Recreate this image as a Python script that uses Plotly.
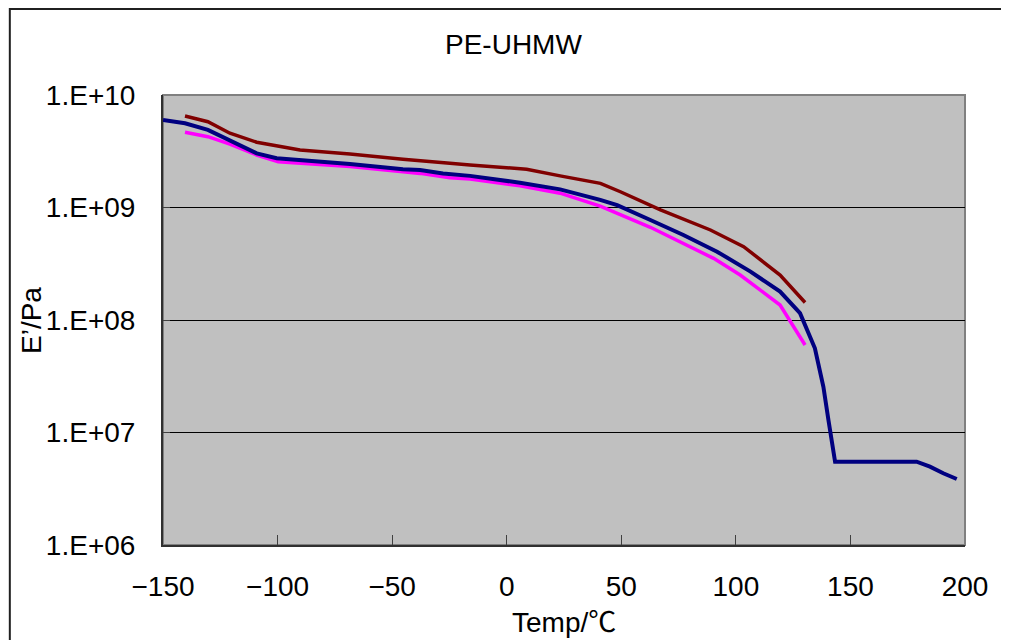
import plotly.graph_objects as go

# Temperature (°C) and storage modulus E' (Pa)
navy_temp = [-150, -140.4, -130.4, -120.8, -109.1, -100.4, -85.8, -68.4, -45.3, -37.8,
             -27.8, -16.0, 5.8, 23.3, 40.8, 48.2, 62.7, 77.1, 91.8, 106.4,
             119.3, 128.0, 134.5, 138.2, 140.4, 143.3, 178.9, 184.7, 190.5, 196.4]
navy_E = [6.00e9, 5.60e9, 4.89e9, 3.98e9, 3.03e9, 2.74e9, 2.61e9, 2.44e9, 2.19e9, 2.15e9,
          2.01e9, 1.91e9, 1.66e9, 1.45e9, 1.17e9, 1.05e9, 7.74e8, 5.70e8, 4.05e8, 2.69e8,
          1.79e8, 1.15e8, 5.61e7, 2.55e7, 1.29e7, 5.50e6, 5.50e6, 4.97e6, 4.34e6, 3.86e6]

maroon_temp = [-140.4, -130.4, -120.8, -109.1, -90.2, -68.4, -45.3, -37.8, -24.8, -16.0,
               8.7, 23.3, 32.0, 40.9, 49.6, 67.1, 88.9, 103.4, 119.3, 130.2]
maroon_E = [6.50e9, 5.79e9, 4.57e9, 3.80e9, 3.24e9, 2.99e9, 2.68e9, 2.59e9, 2.47e9, 2.39e9,
            2.19e9, 1.91e9, 1.78e9, 1.64e9, 1.38e9, 9.51e8, 6.31e8, 4.49e8, 2.51e8, 1.43e8]

magenta_temp = [-140.4, -130.4, -120.8, -109.1, -99.7, -68.4, -45.3, -37.8, -24.8, -16.0,
                5.8, 23.3, 40.8, 62.7, 90.3, 101.9, 119.3, 130.2]
magenta_E = [4.66e9, 4.26e9, 3.66e9, 2.93e9, 2.55e9, 2.31e9, 2.08e9, 2.01e9, 1.84e9, 1.79e9,
             1.56e9, 1.34e9, 1.03e9, 6.67e8, 3.53e8, 2.51e8, 1.36e8, 6.00e7]

x_ticks = [-150, -100, -50, 0, 50, 100, 150, 200]
y_ticks = [1e6, 1e7, 1e8, 1e9, 1e10]
y_ticklabels = ["1.E+06", "1.E+07", "1.E+08", "1.E+09", "1.E+10"]

title_text = "PE-UHMW"
x_title = "Temp/℃"
y_title = "E’/Pa"

FONT = "Liberation Sans, Arial, Noto Sans CJK JP, sans-serif"

fig = go.Figure()
fig.add_trace(go.Scatter(x=maroon_temp, y=maroon_E, mode="lines",
                         line=dict(color="#800000", width=3.5), showlegend=False))
fig.add_trace(go.Scatter(x=magenta_temp, y=magenta_E, mode="lines",
                         line=dict(color="#FF00FF", width=3.5), showlegend=False))
fig.add_trace(go.Scatter(x=navy_temp, y=navy_E, mode="lines",
                         line=dict(color="#000080", width=4), showlegend=False))

# page body adds an 8px offset; margins compensate so the plot area sits at 163..965 x 95..545
fig.update_layout(
    width=1009, height=640,
    margin=dict(l=155, r=52, t=87, b=103),
    paper_bgcolor="white",
    plot_bgcolor="#C0C0C0",
    font=dict(family=FONT, size=28, color="black"),
    showlegend=False,
)

fig.update_xaxes(
    range=[-150, 200], tickvals=x_ticks, ticks="inside", ticklen=10, tickwidth=1,
    tickcolor="#404040", showgrid=False, zeroline=False,
    showline=True, linecolor="#303030", linewidth=2,
    tickfont=dict(size=28), ticklabelstandoff=15,
)
fig.update_yaxes(
    type="log", range=[6, 10], tickvals=y_ticks, ticktext=y_ticklabels,
    ticks="inside", ticklen=7, tickwidth=1, tickcolor="#404040",
    showgrid=True, gridcolor="black", gridwidth=1, zeroline=False,
    showline=True, linecolor="#303030", linewidth=2,
    tickfont=dict(size=28), ticklabelstandoff=20,
)

# plot-area border (gray top/right)
fig.add_shape(type="rect", xref="paper", yref="paper", x0=0, x1=1, y0=0, y1=1,
              line=dict(color="#808080", width=2), layer="below")
# outer chart frame
fig.add_shape(type="rect", xref="paper", yref="paper", x0=-0.191, x1=1.2, y0=-0.4, y1=1.191,
              line=dict(color="#202020", width=2), layer="above")

fig.add_annotation(text=title_text, xref="paper", yref="paper", x=(513 - 163) / 802,
                   y=1 + (95 - 45) / 450,
                   showarrow=False, xanchor="center", yanchor="middle", font=dict(size=28))
fig.add_annotation(text=x_title, xref="paper", yref="paper", x=0.5, y=-(622 - 545) / 450,
                   showarrow=False, xanchor="center", yanchor="middle", font=dict(size=28))
fig.add_annotation(text=y_title, xref="paper", yref="paper", x=(31 - 163) / 802, y=(545 - 321) / 450,
                   showarrow=False, xanchor="center", yanchor="middle", textangle=-90,
                   font=dict(size=28))

fig.write_html("out.html")
